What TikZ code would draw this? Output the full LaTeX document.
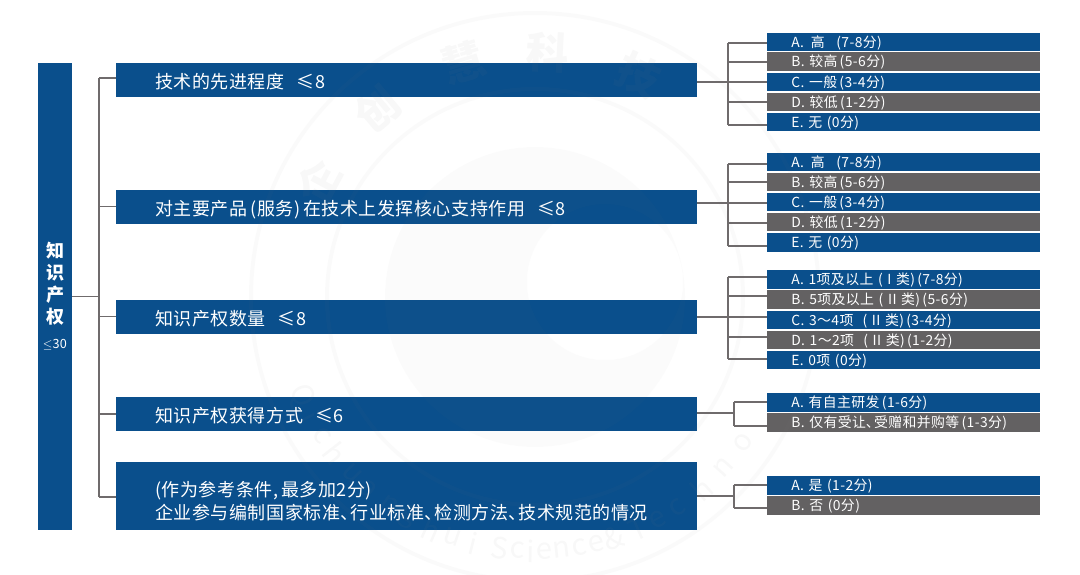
\documentclass[tikz,border=0pt]{standalone}
\usepackage{amssymb}
\usepackage{fontspec}
\setmainfont[LetterSpace=3]{Noto Sans CJK SC}
\newcommand{\dunhao}{\makebox[0.58em][l]{、}}
\definecolor{boxblue}{HTML}{0A4F8C}
\definecolor{boxgray}{HTML}{636162}
\definecolor{linkgray}{HTML}{6F6B6C}
\tikzset{
  rootbox/.style={fill=boxblue, text=white, align=center, inner sep=0pt, minimum width=25.5pt, minimum height=350pt, font=\fontsize{13.5}{16.5}\selectfont\bfseries},
  mainbox/.style={anchor=west, fill=boxblue, text=white, align=left, inner ysep=0pt, inner xsep=29.25pt, text width=377pt, minimum height=25.5pt, font=\fontsize{13.5}{17.25}\selectfont},
  mainrow/.style={mainbox, text height=19.15pt, text depth=6.35pt},
  optbox/.style={anchor=west, text=white, align=left, inner ysep=0pt, inner xsep=18pt, text width=168.75pt, text height=10.9pt, text depth=3.1pt, font=\fontsize{10.4}{13}\selectfont},
  optblue/.style={optbox, fill=boxblue},
  optgray/.style={optbox, fill=boxgray},
  linkline/.style={linkgray, line width=0.9pt},
  seal/.style={gray, opacity=0.06},
  sealring/.style={gray, opacity=0.04, line width=3pt},
  sealdisc/.style={gray, opacity=0.03}
}
\begin{document}
\begin{tikzpicture}[x=0.75pt, y=-0.75pt]
\useasboundingbox (0,0) rectangle (1080,574);

\node[rootbox] (root) at (55,296.5) {知\\识\\产\\权\\[2pt]{\fontsize{9.5}{11}\selectfont\mdseries$\leq$30}};

\node[mainrow] (m1) at (116,80) {技术的先进程度 \ ≤8};
\node[mainrow] (m2) at (116,206.5) {对主要产品\,(服务)\,在技术上发挥核心支持作用 \ ≤8};
\node[mainrow] (m3) at (116,316.5) {知识产权数量 \ ≤8};
\node[mainrow] (m4) at (116,414) {知识产权获得方式 \ ≤6};
\node[mainbox, minimum height=51pt, execute at begin node={\rule{0pt}{18.5pt}}] (m5) at (116,496) {(作为参考条件,\,最多加2分)\\企业参与编制国家标准\dunhao 行业标准\dunhao 检测方法\dunhao 技术规范的情况};

\node[optblue] (m1a) at (767,42) {A.\, 高 \ \,(7-8分)};
\node[optgray] (m1b) at (767,61.5) {B. 较高\,(5-6分)};
\node[optblue] (m1c) at (767,82) {C. 一般\,(3-4分)};
\node[optgray] (m1d) at (767,102) {D. 较低\,(1-2分)};
\node[optblue] (m1e) at (767,122) {E. 无 (0分)};

\node[optblue] (m2a) at (767,162) {A.\, 高 \ \,(7-8分)};
\node[optgray] (m2b) at (767,182) {B. 较高\,(5-6分)};
\node[optblue] (m2c) at (767,202) {C. 一般\,(3-4分)};
\node[optgray] (m2d) at (767,222) {D. 较低\,(1-2分)};
\node[optblue] (m2e) at (767,242.5) {E. 无 (0分)};

\node[optblue] (m3a) at (767,279.5) {A. 1项及以上 ( I 类)\,(7-8分)};
\node[optgray] (m3b) at (767,299.5) {B. 5项及以上 ( II 类)\,(5-6分)};
\node[optblue] (m3c) at (767,320) {C. 3～4项 \ ( II 类)\,(3-4分)};
\node[optgray] (m3d) at (767,340) {D. 1～2项 \ ( II 类)\,(1-2分)};
\node[optblue] (m3e) at (767,360) {E. 0项 (0分)};

\node[optblue] (m4a) at (767,402.5) {A. 有自主研发\,(1-6分)};
\node[optgray] (m4b) at (767,422.5) {B. 仅有受让\dunhao 受赠和并购等\,(1-3分)};

\node[optblue] (m5a) at (767,485.5) {A. 是 (1-2分)};
\node[optgray] (m5b) at (767,505.5) {B. 否 (0分)};

\coordinate (t1) at (99,78);
\coordinate (t5) at (99,497);
\draw[linkline] (t1) -- (t5);
\draw[linkline] (root.east) -- (root.east -| t1);
\draw[linkline] (t1) -- (t1 -| m1.west);
\draw[linkline] (t1 |- m2.west) -- (m2.west);
\draw[linkline] (t1 |- m3.west) -- (m3.west);
\draw[linkline] (t1 |- m4.west) -- (m4.west);
\draw[linkline] (t5) -- (t5 -| m5.west);

\foreach \m/\x/\y/\ya/\yb/\yd/\ye in {m1/728/82/43/62/102/125, m2/728/203/164/182/223/246, m3/728/317/277/296/337/359}{
  \coordinate (\m top) at (\x,\ya);
  \coordinate (\m bot) at (\x,\ye);
  \draw[linkline] (\m top) -- (\m bot);
  \draw[linkline] (\m.east |- 0,\y) -- (\m c.west |- 0,\y);
  \draw[linkline] (\m top) -- (\m a.west |- \m top);
  \draw[linkline] (\x,\yb) -- (\m b.west |- 0,\yb);
  \draw[linkline] (\x,\yd) -- (\m d.west |- 0,\yd);
  \draw[linkline] (\m bot) -- (\m e.west |- \m bot);
}

\foreach \m/\x/\y/\ya/\yb in {m4/734/413/402/426, m5/734/496/485/508}{
  \coordinate (\m top) at (\x,\ya);
  \coordinate (\m bot) at (\x,\yb);
  \draw[linkline] (\m.east |- 0,\y) -- (\x,\y);
  \draw[linkline] (\m top) -- (\m bot);
  \draw[linkline] (\m top) -- (\m a.west |- \m top);
  \draw[linkline] (\m bot) -- (\m b.west |- \m bot);
}

% faint seal over the chart
\begin{scope}[shift={(535,297)}]
\draw[sealring] (0,0) circle (284);
\draw[sealring] (0,0) circle (208);
\fill[sealdisc, even odd rule] (0,0) circle (150) (70,-15) circle (78);
\foreach \c/\a in {企/-152, 创/-130, 慧/-107, 科/-87, 技/-65}{
  \pgfmathsetmacro\tilt{-(\a+90)}
  \node[seal, rotate=\tilt, font=\fontsize{32}{32}\selectfont\bfseries] (seal\a) at (\a:245) {\c};
}
\foreach \c/\a in {Q/157, i/152, c/147, h/142, u/136, a/131, n/125, g/120, h/114, u/109, i/104,
    S/98, c/94, i/91, e/88, n/84, c/80, e/76, \&/72, T/66, e/61, c/56, h/49, n/42, o/35}{
  \pgfmathsetmacro\tilt{90-\a}
  \node[seal, rotate=\tilt, font=\fontsize{22}{22}\selectfont] (letter\a) at (\a:254) {\c};
}
\end{scope}

\end{tikzpicture}
\end{document}
